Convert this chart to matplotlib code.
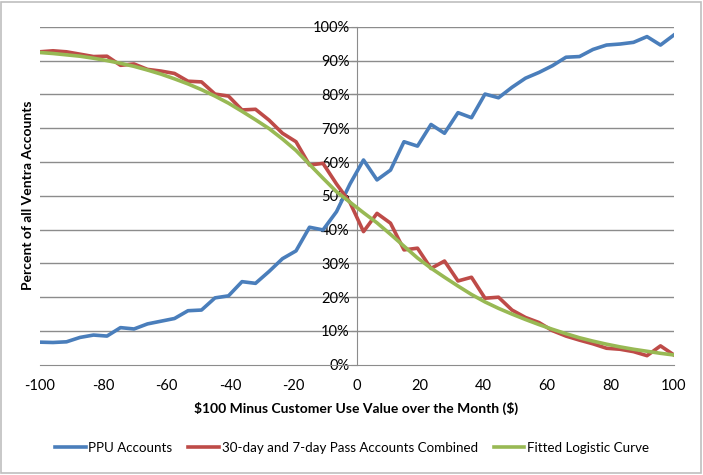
import numpy as np
import matplotlib.pyplot as plt
from matplotlib.patches import Rectangle
from matplotlib.ticker import PercentFormatter

# x positions: 48 evenly spaced bins from -100 to 100
x_vals = np.linspace(-100, 100, 48)

ppu = [6.7, 6.6, 6.8, 8.1, 8.8, 8.5, 11.0, 10.6, 12.1, 12.9, 13.7, 16.0,
       16.2, 19.8, 20.4, 24.6, 24.1, 27.6, 31.4, 33.7, 40.7, 39.9, 45.3, 53.5,
       60.6, 54.7, 57.6, 66.0, 64.7, 71.1, 68.5, 74.6, 73.1, 80.1, 79.0, 82.1,
       84.8, 86.5, 88.5, 91.0, 91.2, 93.3, 94.6, 94.9, 95.4, 97.1, 94.6, 97.6]

passes = [92.6, 92.9, 92.6, 91.9, 91.2, 91.3, 88.6, 89.0, 87.4, 86.9, 86.2, 83.9,
          83.7, 80.1, 79.5, 75.4, 75.6, 72.4, 68.5, 66.0, 59.1, 59.6, 53.5, 48.0,
          39.4, 44.8, 41.9, 34.0, 34.5, 28.5, 30.7, 24.8, 25.9, 19.7, 20.0, 16.2,
          14.0, 12.5, 10.1, 8.5, 7.3, 6.2, 4.9, 4.6, 3.9, 2.7, 5.6, 2.9]

fitted = [92.4, 92.1, 91.7, 91.3, 90.7, 90.0, 89.2, 88.3, 87.2, 86.0, 84.6, 83.1,
          81.4, 79.5, 77.4, 75.0, 72.5, 69.9, 66.8, 63.4, 59.3, 55.2, 51.2, 48.1,
          45.0, 42.0, 38.6, 35.1, 31.6, 28.6, 25.9, 23.3, 20.8, 18.6, 16.7, 15.0,
          13.4, 11.9, 10.5, 9.2, 8.0, 7.0, 6.1, 5.3, 4.6, 4.0, 3.4, 2.9]

plt.rcParams['font.family'] = ['Lato', 'DejaVu Sans']
plt.rcParams['axes.unicode_minus'] = False

fig = plt.figure(figsize=(7.03, 4.75), dpi=100)
W, H = 703, 475
ax = fig.add_axes([39.5 / W, 1 - 364.8 / H, (674 - 39.5) / W, (364.8 - 26.8) / H])

# chart border
fig.patches.append(Rectangle((1 / W, 2 / H), 700 / W, 471 / H, transform=fig.transFigure,
                             fill=False, edgecolor='#bfbfbf', linewidth=1.2))

for y in range(10, 101, 10):
    ax.axhline(y, color='#8c8c8c', linewidth=1.0, zorder=0)

lw = 2.6
ax.plot(x_vals, ppu, color='#4a7ebb', linewidth=lw, label='PPU Accounts', zorder=3)
ax.plot(x_vals, passes, color='#be4b48', linewidth=lw,
        label='30-day and 7-day Pass Accounts Combined', zorder=4)
ax.plot(x_vals, fitted, color='#98b954', linewidth=lw, label='Fitted Logistic Curve', zorder=5)

ax.set_xlim(-100, 100)
ax.set_ylim(0, 100)
ax.set_xticks(range(-100, 101, 20))
ax.set_yticks(range(0, 101, 10))
ax.yaxis.set_major_formatter(PercentFormatter(decimals=0))

for s in ['top', 'right']:
    ax.spines[s].set_visible(False)
ax.spines['left'].set_position(('data', 0))
ax.spines['left'].set_color('#8c8c8c')
ax.spines['bottom'].set_color('#8c8c8c')
ax.tick_params(axis='y', length=4, color='#8c8c8c', pad=1, labelsize=10.5)
ax.tick_params(axis='x', length=0, pad=10, labelsize=10.5)

fig.text(356 / W, 1 - 408 / H, r'\$100 Minus Customer Use Value over the Month (\$)',
         ha='center', va='center', fontsize=10, fontweight='bold')
fig.text(28 / W, 1 - 195 / H, 'Percent of all Ventra Accounts', rotation=90,
         ha='center', va='center', fontsize=10, fontweight='bold')

fig.legend(loc='center', bbox_to_anchor=(352 / W, 1 - 448 / H), ncol=3, frameon=False,
           fontsize=9.6, handlelength=2.3, columnspacing=1.2, handletextpad=0.2)

fig.savefig('out.png', dpi=100)
